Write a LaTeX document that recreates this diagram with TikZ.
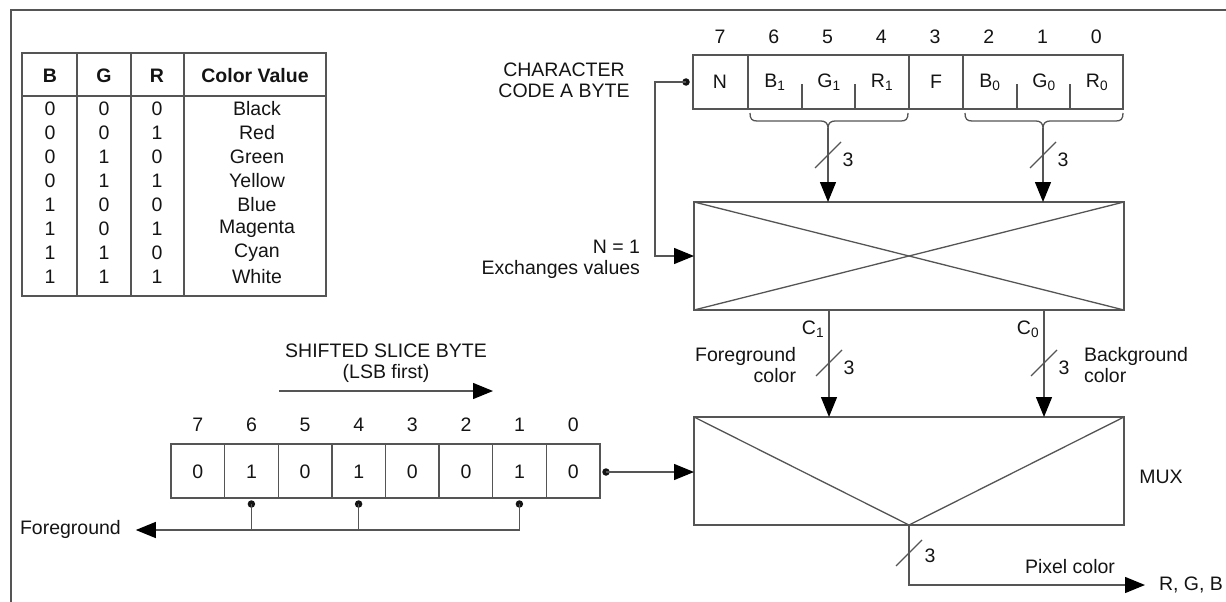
\documentclass[tikz,border=0pt]{standalone}
\usepackage{fontspec}
\setmainfont{Liberation Sans}
\usetikzlibrary{arrows.meta,calc}
\definecolor{lnc}{RGB}{85,85,85}
\definecolor{txt}{RGB}{20,20,20}
\begin{document}
\begin{tikzpicture}[x=1pt,y=-1pt,
  every node/.style={font=\fontsize{19.5}{21}\selectfont, text=txt, inner sep=0pt, outer sep=0pt},
  ln/.style={draw=lnc, line width=1.3pt},
  arr/.style={ln, -{Triangle[length=20pt,width=16pt,color=black]}},
  boxnode/.style={draw=lnc, line width=1.3pt, anchor=north west},
  dotc/.style={circle, fill=txt, minimum size=7.5pt},
  hdr/.style={font=\fontsize{19.5}{21}\selectfont\bfseries}
]
\useasboundingbox (0,0) rectangle (1226,602);
% frame
\draw[draw=lnc, line width=2pt] (11,602) -- (11,10) -- (1226,10);

% ---------- table ----------
\node[boxnode, minimum width=304pt, minimum height=243pt] (tbl) at (22,53) {};
\draw[ln] (22,96) -- (326,96);
\foreach \x in {77,131,184} \draw[ln] (\x,53) -- (\x,296);
\node[hdr] (hb) at (50,76) {B};
\node[hdr] (hg) at (104,76) {G};
\node[hdr] (hr) at (157,76) {R};
\node[hdr] (hc) at (255,76) {Color Value};
\foreach \b/\g/\r/\c [count=\i] in {0/0/0/Black,0/0/1/Red,0/1/0/Green,0/1/1/Yellow,1/0/0/Blue,1/0/1/Magenta,1/1/0/Cyan,1/1/1/White}{
  \node (tb\i) at (50,{85+24*\i}) {\b};
  \node (tg\i) at (104,{85+24*\i}) {\g};
  \node (tr\i) at (157,{85+24*\i}) {\r};
  \node (tc\i) at (257,{85+24*\i}) {\c};
}

% ---------- character code byte ----------
\node[align=center] (cclabel) at (564,80) {CHARACTER\\CODE A BYTE};
\node[boxnode, minimum width=430pt, minimum height=54pt] (cbyte) at (693,55) {};
\foreach \x in {748,909,963} \draw[ln] (\x,55) -- (\x,109);
\foreach \x in {802,855,1017,1070} \draw[ln] (\x,84) -- (\x,109);
\foreach \n [count=\i from 0] in {7,6,5,4,3,2,1,0}
  \node (cb\n) at ({720+53.75*\i},37) {\n};
\node (cN) at (720,82) {N};
\node (cB1) at (775,82) {B\textsubscript{1}};
\node (cG1) at (829,82) {G\textsubscript{1}};
\node (cR1) at (882,82) {R\textsubscript{1}};
\node (cF) at (936,82) {F};
\node (cB0) at (990,82) {B\textsubscript{0}};
\node (cG0) at (1044,82) {G\textsubscript{0}};
\node (cR0) at (1097,82) {R\textsubscript{0}};

% braces
\draw[ln] (750,113) .. controls (750,119) and (752,121) .. (757,121) -- (821,121) .. controls (825,121) and (828,123) .. (828,128) .. controls (828,123) and (831,121) .. (835,121) -- (901,121) .. controls (906,121) and (908,119) .. (908,113);
\draw[ln] (965,113) .. controls (965,119) and (967,121) .. (972,121) -- (1036,121) .. controls (1040,121) and (1043,123) .. (1043,128) .. controls (1043,123) and (1046,121) .. (1050,121) -- (1116,121) .. controls (1121,121) and (1123,119) .. (1123,113);
\coordinate (br1) at (828,128);
\coordinate (br0) at (1043,128);

% exchange box
\node[boxnode, minimum width=430pt, minimum height=108pt] (xbox) at (694,202) {};
\draw[ln] (xbox.north west) -- (xbox.south east);
\draw[ln] (xbox.south west) -- (xbox.north east);
\draw[arr] (br1) -- (br1 |- xbox.north);
\draw[arr] (br0) -- (br0 |- xbox.north);
\draw[ln] (815,168) -- (841,142);
\draw[ln] (1030,168) -- (1056,142);
\node (w1) at (848,160) {3};
\node (w0) at (1063,160) {3};

% feedback N
\node[dotc] (nd) at (686,82) {};
\coordinate (fbk) at (655,82);
\draw[arr] (nd.center) -- (fbk) |- (xbox.west);
\node[anchor=east] (n1) at (640,247) {N = 1};
\node[anchor=east] (exv) at (640,269) {Exchanges values};

% ---------- MUX ----------
\node[boxnode, minimum width=430pt, minimum height=108pt] (mux) at (694,417) {};
\coordinate (apex) at (909,525);
\draw[ln] (mux.north west) -- (apex) -- (mux.north east);
\node (muxl) at (1161,477) {MUX};
\draw[arr] (829,310) -- (829,417);
\draw[arr] (1044,310) -- (1044,417);
\draw[ln] (816,376) -- (842,350);
\draw[ln] (1031,376) -- (1057,350);
\node (w2) at (849,368) {3};
\node (w3) at (1064,368) {3};
\node (c1) at (813,329) {C\textsubscript{1}};
\node (c0) at (1028,329) {C\textsubscript{0}};
\node[anchor=east, align=right] (fgc) at (796,365) {Foreground\\color};
\node[anchor=west, align=left] (bgc) at (1084,365) {Background\\color};

% output
\coordinate (outc) at (909,585);
\node[anchor=west] (rgb) at (1159,585) {R, G, B};
\draw[arr] (apex) -- (outc) -- ([xshift=-14pt]rgb.west);
\draw[ln] (896,566) -- (922,540);
\node (w4) at (930,556) {3};
\node (pix) at (1070,567) {Pixel color};

% ---------- shifted slice byte ----------
\node[align=center] (ssb) at (386,363) {SHIFTED SLICE BYTE\\(LSB first)};
\coordinate (sa) at (279,391);
\coordinate (sb) at (493,391);
\draw[arr] (sa) -- (sb);
\node[boxnode, minimum width=429pt, minimum height=54pt] (sbyte) at (171,444) {};
\foreach \i in {1,...,7} \draw[ln] ({171+53.625*\i},444) -- ({171+53.625*\i},498);
\foreach \n/\v [count=\i from 0] in {7/0,6/1,5/0,4/1,3/0,2/0,1/1,0/0}{
  \node (sl\n) at ({197.8+53.625*\i},425) {\n};
  \node (sv\n) at ({197.8+53.625*\i},472) {\v};
}
\node[dotc] (sd) at (606,472) {};
\draw[arr] (sd.center) -- (sd.center -| mux.west);
\node[dotc] (f6) at (251.4,504) {};
\node[dotc] (f4) at (358.6,504) {};
\node[dotc] (f1) at (519.4,504) {};
\node[anchor=west] (fgt) at (20,529) {Foreground};
\draw[ln] (f6.center) -- (f6.center |- 0,530);
\draw[ln] (f4.center) -- (f4.center |- 0,530);
\draw[arr] (f1.center) |- ([xshift=15pt]fgt.east |- 0,530);
\end{tikzpicture}
\end{document}
